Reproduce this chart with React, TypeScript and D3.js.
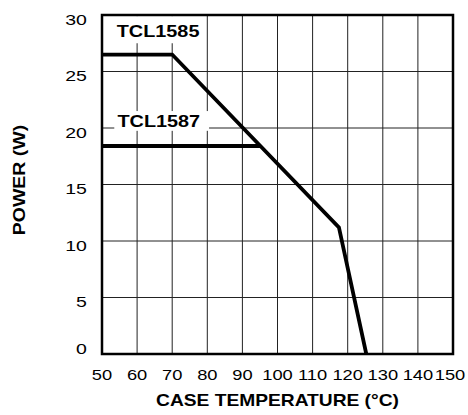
import React from 'react'
import * as d3 from 'd3'

// x axis ticks (case temperature, °C) and y axis ticks (power, W)
const tempTicks = [50, 60, 70, 80, 90, 100, 110, 120, 130, 140, 150]
const powerTicks = [0, 5, 10, 15, 20, 25, 30]

// derating curves
const tcl1585Temp = [50, 70, 117.5, 125.3]
const tcl1585Power = [26.5, 26.5, 11.2, 0]
const tcl1587Temp = [50, 95.2]
const tcl1587Power = [18.4, 18.4]

const W = 468
const H = 415
const FONT = '"Liberation Sans", Arial, Helvetica, sans-serif'

const App = () => {
  const x = d3.scaleLinear([50, 150], [102, 453])
  const y = d3.scaleLinear([0, 30], [354, 15])

  const line = d3.line<[number, number]>()
    .x(d => x(d[0]))
    .y(d => y(d[1]))

  const c1585 = tcl1585Temp.map((t, i) => [t, tcl1585Power[i]] as [number, number])
  const c1587 = tcl1587Temp.map((t, i) => [t, tcl1587Power[i]] as [number, number])

  // stretched text, the original uses a wide face
  const wide = (tx: number, ty: number, sx: number, rot = 0) =>
    `translate(${tx},${ty}) rotate(${rot}) scale(${sx},1)`

  return (
    <svg width={W} height={H} style={{ position: 'absolute', left: 0, top: 0, background: '#fff' }}>
      {/* grid */}
      <g stroke="#222" strokeWidth={1}>
        {tempTicks.slice(1, -1).map(t => (
          <line key={'v' + t} x1={x(t)} x2={x(t)} y1={y(30)} y2={y(0)} />
        ))}
        {powerTicks.slice(1, -1).map(p => (
          <line key={'h' + p} x1={x(50)} x2={x(150)} y1={y(p)} y2={y(p)} />
        ))}
      </g>

      {/* label boxes knock out the grid */}
      <rect x={x(51)} y={y(29.9)} width={x(77.5) - x(51)} height={y(27.5) - y(29.9)} fill="#fff" />
      <rect x={x(53.5)} y={y(21.5)} width={x(80.5) - x(53.5)} height={y(19.75) - y(21.5)} fill="#fff" />

      {/* frame */}
      <rect x={x(50)} y={y(30)} width={x(150) - x(50)} height={y(0) - y(30)}
        fill="none" stroke="#000" strokeWidth={2.5} />

      {/* curves */}
      <path d={line(c1585) || ''} fill="none" stroke="#000" strokeWidth={3.8} strokeLinejoin="miter" />
      <path d={line(c1587) || ''} fill="none" stroke="#000" strokeWidth={4} />

      {/* curve labels */}
      <g fontFamily={FONT} fontWeight="bold" fontSize={16} fill="#000">
        <text transform={wide(x(54.2), y(28.05), 1.24)}>TCL1585</text>
        <text transform={wide(x(54.4), y(20.05), 1.24)}>TCL1587</text>
      </g>

      {/* y tick labels */}
      <g fontFamily={FONT} fontSize={15} fill="#000" textAnchor="end">
        {powerTicks.map(p => (
          <text key={p} transform={wide(x(45.7), p === 0 ? y(0) : y(p) + 9.5, 1.3)}>{p}</text>
        ))}
      </g>

      {/* x tick labels */}
      <g fontFamily={FONT} fontSize={15} fill="#000" textAnchor="middle">
        {tempTicks.map(t => (
          <text key={t} transform={wide(x(t) - (t === 150 ? 3 : 0), 379.5, 1.22)}>{t}</text>
        ))}
      </g>

      {/* axis titles */}
      <g fontFamily={FONT} fontWeight="bold" fontSize={16} fill="#000" textAnchor="middle">
        <text transform={wide((x(50) + x(150)) / 2, 406, 1.2)}>CASE TEMPERATURE (°C)</text>
        <text transform={wide(25, 180, 1.22, -90)}>POWER (W)</text>
      </g>
    </svg>
  )
}

export default App
